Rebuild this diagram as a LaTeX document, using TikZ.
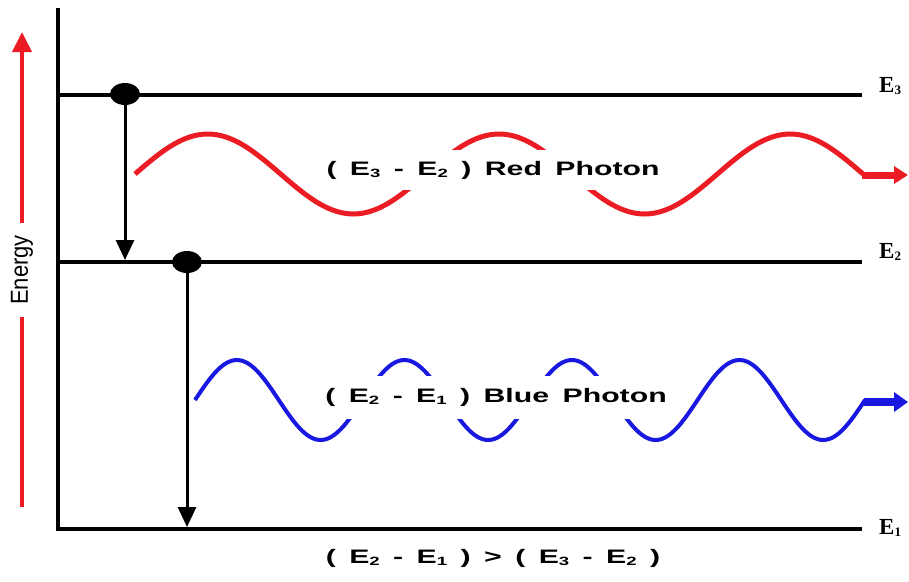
\documentclass[tikz,border=0pt]{standalone}
\usepackage{graphicx}
\usepackage{fontspec}
\usetikzlibrary{arrows.meta,shapes.geometric}
\setmainfont{Liberation Sans}
\newfontfamily\photonfont[FakeStretch=1.55,WordSpace=1.6]{Liberation Sans}
\newfontfamily\levelfont{Liberation Serif}
\definecolor{photonred}{RGB}{236,28,36}
\definecolor{photonblue}{RGB}{24,24,224}
\newcommand\lowidx[2][12]{\raisebox{-2.5pt}{\fontsize{#1}{#1}\selectfont #2}}
\begin{document}
\begin{tikzpicture}[x=1pt,y=-1pt,
  level/.style={line width=4pt},
  dot/.style={ellipse,fill=black,minimum width=30pt,minimum height=22pt,inner sep=0pt},
  drop/.style={line width=3pt,-{Triangle[length=20pt,width=18pt]}},
  levellabel/.style={anchor=base west,inner sep=0pt,font=\levelfont\bfseries\fontsize{23}{23}\selectfont},
  photonlabel/.style={fill=white,inner xsep=2pt,inner ysep=0pt,font=\photonfont\bfseries\fontsize{19.5}{22}\selectfont},
  redwave/.style={photonred,line width=5pt},
  bluewave/.style={photonblue,line width=4pt}]
\useasboundingbox (0,0) rectangle (909,581);

\coordinate (top) at (58,8);
\coordinate (e1l) at (58,529);
\coordinate (e1r) at (862,529);
\coordinate (e2l) at (58,262);
\coordinate (e2r) at (862,262);
\coordinate (e3l) at (58,95);
\coordinate (e3r) at (862,95);
\draw[level] (top) -- (e1l) -- (e1r);
\draw[level] (e2l) -- (e2r);
\draw[level] (e3l) -- (e3r);

\node[levellabel] (e3) at (879,92) {E\lowidx[13]{3}};
\node[levellabel] (e2) at (879,258) {E\lowidx[13]{2}};
\node[levellabel] (e1) at (879,534) {E\lowidx[13]{1}};

\coordinate (ebot) at (22,507);
\coordinate (etop) at (22,32);
\draw[photonred,line width=4pt,-{Triangle[length=20pt,width=19pt]}] (ebot) -- (etop);
\node[fill=white,rotate=90,inner sep=0pt,minimum width=94pt,font=\fontsize{22}{22}\selectfont] (energy) at (22,270) {\scalebox{1}[1.12]{Energy}};

\node[dot] (d3) at (125,94) {};
\node[dot] (d2) at (187,262) {};
\coordinate (t2) at (125,260);
\coordinate (t1) at (187,527);
\draw[drop] (d3) -- (t2);
\draw[drop] (d2) -- (t1);

\draw[redwave] plot[smooth,domain=0:900,samples=91] ({135+0.8089*\x},{174-40*sin(\x)});
\coordinate (rend) at (862,175);
\coordinate (rtip) at (908,175);
\draw[photonred,line width=7pt,-{Triangle[length=14pt,width=17pt]}] (rend) -- (rtip);
\node[photonlabel,minimum height=40pt] (redtxt) at (493,170) {( E\lowidx{3} - E\lowidx{2} ) Red Photon};

\draw[bluewave] plot[smooth,domain=0:1440,samples=145] ({195+0.4653*\x},{400-40*sin(\x)});
\coordinate (bend) at (864,402);
\coordinate (btip) at (908,402);
\draw[photonblue,line width=8pt,-{Triangle[length=14pt,width=19pt]}] (bend) -- (btip);
\node[photonlabel,minimum height=43pt] (bluetxt) at (496,397) {( E\lowidx{2} - E\lowidx{1} ) Blue Photon};

\node[font=\photonfont\bfseries\fontsize{19.5}{22}\selectfont,inner sep=0pt] (cmp) at (493,558) {( E\lowidx{2} - E\lowidx{1} ) > ( E\lowidx{3} - E\lowidx{2} )};
\end{tikzpicture}
\end{document}
